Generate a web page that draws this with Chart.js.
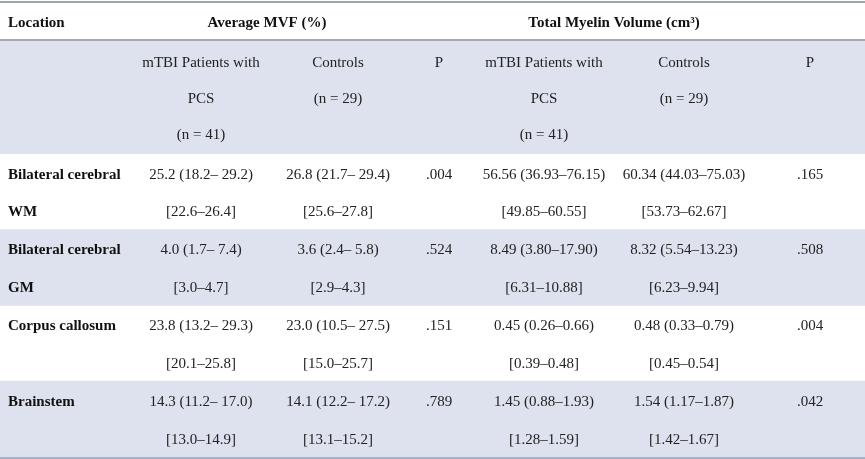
<!DOCTYPE html>
<html>
<head>
<meta charset="utf-8">
<script src="https://cdn.jsdelivr.net/npm/chart.js@4/dist/chart.umd.min.js"></script>
<style>
html,body{margin:0;padding:0;background:#ffffff;}
#c{display:block;}
</style>
</head>
<body>
<canvas id="c" width="865" height="459"></canvas>
<script>
// ---------- DATA ----------
const groupHeaders = ['Average MVF (%)', 'Total Myelin Volume (cm\u00B3)'];
const columnHeaders = [
  ['mTBI Patients with', 'PCS', '(n = 41)'],
  ['Controls', '(n = 29)'],
  ['P'],
  ['mTBI Patients with', 'PCS', '(n = 41)'],
  ['Controls', '(n = 29)'],
  ['P']
];
const locations = [['Bilateral cerebral', 'WM'], ['Bilateral cerebral', 'GM'], ['Corpus callosum'], ['Brainstem']];

const mvfPatientsMedian = [25.2, 4.0, 23.8, 14.3];
const mvfPatientsRange  = [[18.2, 29.2], [1.7, 7.4], [13.2, 29.3], [11.2, 17.0]];
const mvfPatientsCI     = [[22.6, 26.4], [3.0, 4.7], [20.1, 25.8], [13.0, 14.9]];

const mvfControlsMedian = [26.8, 3.6, 23.0, 14.1];
const mvfControlsRange  = [[21.7, 29.4], [2.4, 5.8], [10.5, 27.5], [12.2, 17.2]];
const mvfControlsCI     = [[25.6, 27.8], [2.9, 4.3], [15.0, 25.7], [13.1, 15.2]];

const mvfP = [0.004, 0.524, 0.151, 0.789];

const volPatientsMedian = [56.56, 8.49, 0.45, 1.45];
const volPatientsRange  = [[36.93, 76.15], [3.80, 17.90], [0.26, 0.66], [0.88, 1.93]];
const volPatientsCI     = [[49.85, 60.55], [6.31, 10.88], [0.39, 0.48], [1.28, 1.59]];

const volControlsMedian = [60.34, 8.32, 0.48, 1.54];
const volControlsRange  = [[44.03, 75.03], [5.54, 13.23], [0.33, 0.79], [1.17, 1.87]];
const volControlsCI     = [[53.73, 62.67], [6.23, 9.94], [0.45, 0.54], [1.42, 1.67]];

const volP = [0.165, 0.508, 0.004, 0.042];

// ---------- LAYOUT (not data) ----------
const TABLE_W = 865;
const SLOTS = 12;                    // text-line slots: header 1, subheader 3, 4 rows x 2
const locationX = 8;
const colCenters = [201, 338, 439, 544, 684, 810];
const groupCenters = [267, 614];
const HEADER_SLOT = 0, SUB_SLOT = 1, ROW_SLOT0 = 4, ROW_SLOTS = 2;
const shadedRows = [1, 3];          // data rows with blue background
const BLUE = '#dde2ee';
const TEXT = '#222222';
const FONT_FAMILY = '"Liberation Serif", "Times New Roman", serif';

// band dataset built from the layout: subheader slots + shaded data rows
const slotLabels = Array.from({length: SLOTS}, (_, i) => 'slot' + i);
const bandData = slotLabels.map((_, i) => {
  if (i >= SUB_SLOT && i < ROW_SLOT0) return [0, TABLE_W];
  if (i >= ROW_SLOT0) {
    const r = Math.floor((i - ROW_SLOT0) / ROW_SLOTS);
    if (shadedRows.includes(r)) return [0, TABLE_W];
  }
  return null;
});

function fmt(v, d) { return v.toFixed(d); }
function medRange(m, r, d, sep) { return fmt(m, d) + ' (' + fmt(r[0], d) + sep + fmt(r[1], d) + ')'; }
function ci(r, d) { return '[' + fmt(r[0], d) + '\u2013' + fmt(r[1], d) + ']'; }
function pv(p) { return p.toFixed(3).replace(/^0/, ''); }

function rowCells(i) {
  return [
    [medRange(mvfPatientsMedian[i], mvfPatientsRange[i], 1, '\u2013 '), ci(mvfPatientsCI[i], 1)],
    [medRange(mvfControlsMedian[i], mvfControlsRange[i], 1, '\u2013 '), ci(mvfControlsCI[i], 1)],
    [pv(mvfP[i])],
    [medRange(volPatientsMedian[i], volPatientsRange[i], 2, '\u2013'), ci(volPatientsCI[i], 2)],
    [medRange(volControlsMedian[i], volControlsRange[i], 2, '\u2013'), ci(volControlsCI[i], 2)],
    [pv(volP[i])]
  ];
}

const tablePlugin = {
  id: 'tableText',
  afterDatasetsDraw(chart) {
    const ctx = chart.ctx;
    const xs = chart.scales.x, ys = chart.scales.y;
    const slotH = ys.getPixelForValue(1) - ys.getPixelForValue(0);
    const slotTop = i => ys.getPixelForValue(i) - slotH / 2;
    const slotMid = i => ys.getPixelForValue(i);
    const X = v => xs.getPixelForValue(v);
    const x0 = X(0), x1 = X(TABLE_W);

    // rules
    ctx.save();
    ctx.lineWidth = 2;
    ctx.strokeStyle = '#9fa4b4';
    ctx.beginPath(); ctx.moveTo(x0, slotTop(0)); ctx.lineTo(x1, slotTop(0)); ctx.stroke();
    ctx.strokeStyle = '#a4a9ba';
    ctx.beginPath(); ctx.moveTo(x0, slotTop(SUB_SLOT)); ctx.lineTo(x1, slotTop(SUB_SLOT)); ctx.stroke();
    ctx.strokeStyle = '#a6b0cb';
    ctx.beginPath(); ctx.moveTo(x0, slotTop(SLOTS) + 1); ctx.lineTo(x1, slotTop(SLOTS) + 1); ctx.stroke();

    ctx.textBaseline = 'middle';
    ctx.fillStyle = '#111111';
    const dy = 2;

    // header row
    ctx.font = 'bold 15px ' + FONT_FAMILY;
    ctx.textAlign = 'left';
    ctx.fillText('Location', X(locationX), slotMid(HEADER_SLOT) + dy);
    ctx.textAlign = 'center';
    groupHeaders.forEach((h, k) => ctx.fillText(h, X(groupCenters[k]), slotMid(HEADER_SLOT) + dy));

    // sub header
    ctx.font = '15px ' + FONT_FAMILY;
    ctx.fillStyle = TEXT;
    const subCenter = (slotTop(SUB_SLOT) + slotTop(ROW_SLOT0)) / 2;
    const subGap = 36;
    columnHeaders.forEach((lines, c) => {
      lines.forEach((t, l) => {
        ctx.fillText(t, X(colCenters[c]), subCenter + (l - 1) * subGap + dy);
      });
    });

    // data rows
    locations.forEach((loc, r) => {
      const s = ROW_SLOT0 + r * ROW_SLOTS;
      ctx.font = 'bold 15px ' + FONT_FAMILY;
      ctx.fillStyle = '#111111';
      ctx.textAlign = 'left';
      loc.forEach((t, l) => ctx.fillText(t, X(locationX), slotMid(s + l) + dy));
      ctx.font = '15px ' + FONT_FAMILY;
      ctx.fillStyle = TEXT;
      ctx.textAlign = 'center';
      rowCells(r).forEach((lines, c) => {
        lines.forEach((t, l) => ctx.fillText(t, X(colCenters[c]), slotMid(s + l) + dy));
      });
    });
    ctx.restore();
  }
};

new Chart(document.getElementById('c'), {
  type: 'bar',
  data: {
    labels: slotLabels,
    datasets: [{
      data: bandData,
      backgroundColor: BLUE,
      borderWidth: 0,
      barPercentage: 1,
      categoryPercentage: 1
    }]
  },
  options: {
    indexAxis: 'y',
    responsive: false,
    animation: false,
    devicePixelRatio: 1,
    layout: { padding: { top: 2, bottom: 2, left: 0, right: 0 } },
    plugins: { legend: { display: false }, tooltip: { enabled: false } },
    scales: {
      x: { type: 'linear', min: 0, max: TABLE_W, display: false },
      y: { type: 'category', display: false, offset: true }
    }
  },
  plugins: [tablePlugin]
});
</script>
</body>
</html>
